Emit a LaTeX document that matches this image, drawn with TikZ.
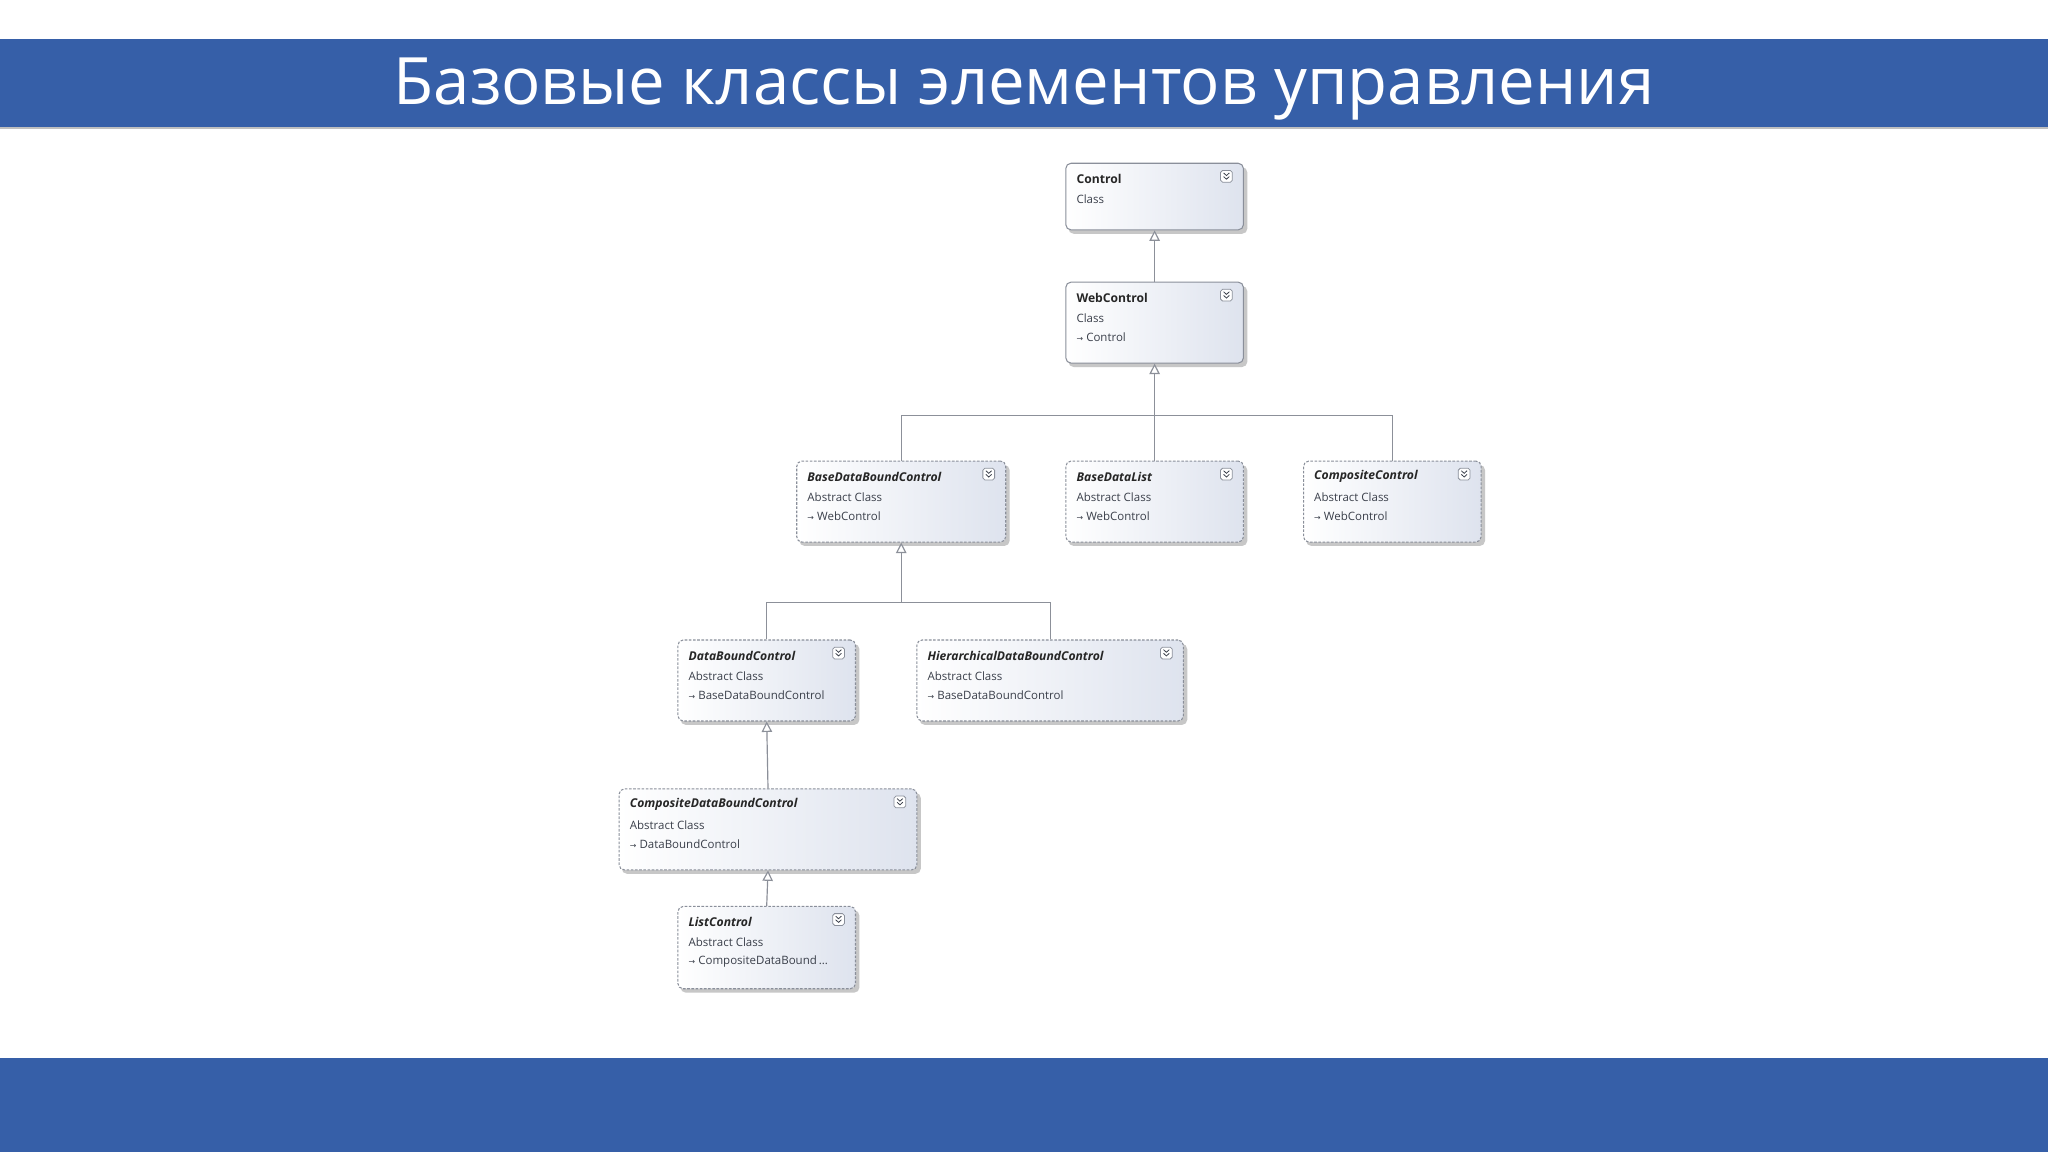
\documentclass[tikz,border=0pt]{standalone}
\usepackage{fontspec}
\setmainfont{Open Sans}
\newfontfamily\symfont{DejaVu Sans}
\usetikzlibrary{arrows.meta,calc}
\definecolor{barblue}{HTML}{365FA8}
\definecolor{boxtxt}{HTML}{3A3F4A}
\definecolor{boxedge}{HTML}{8A8F9A}
\definecolor{lineg}{HTML}{8C9099}
\tikzset{
  umlsolid/.style={draw=boxedge,rounded corners=4pt,left color=white,right color={rgb,255:red,222;green,227;blue,238},line width=0.8pt},
  umldash/.style={umlsolid,dash pattern=on 2pt off 1.2pt},
  shad/.style={fill=black!22,rounded corners=4pt,draw=none},
  nametxt/.style={anchor=west,inner sep=0,font=\fontsize{9.3}{11}\selectfont\bfseries,text=black!85},
  subtxt/.style={anchor=west,inner sep=0,font=\fontsize{8.8}{11}\selectfont,text=boxtxt},
  conn/.style={draw=lineg,line width=0.9pt},
  inh/.style={conn,-{Triangle[open,length=8pt,width=8pt,fill=white]}},
  icon/.style={draw=boxedge,rounded corners=1.5pt,minimum width=9pt,minimum height=9pt,inner sep=0,fill=white,line width=0.6pt}
}
\newcommand\umlbox[9]{%
  \fill[shad] (#2+2,#3+3) rectangle (#4+3,#5+3);
  \node[#9,minimum width={(#4-#2)*1pt},minimum height={(#5-#3)*1pt},inner sep=0] (#1) at ({(#2+#4)/2},{(#3+#5)/2}) {};
  \node[nametxt] (#1-t) at (#2+8,#3+12) {#6};
  \node[subtxt] (#1-k) at (#2+8,#3+27.5) {#7};
  \ifx&#8&\else
  \node[subtxt] (#1-p) at (#2+8,#3+42.5) {{\symfont\fontsize{6}{8}\selectfont →}\;#8};
  \fi
  \node[icon] (#1-i) at (#4-13,#3+10) {};
  \draw[boxtxt,line width=0.6pt] ($(#1-i)+(-2.2,-2.6)$) -- ($(#1-i)+(0,-0.6)$) -- ($(#1-i)+(2.2,-2.6)$)
        ($(#1-i)+(-2.2,0.2)$) -- ($(#1-i)+(0,2.2)$) -- ($(#1-i)+(2.2,0.2)$);
}
\begin{document}
\begin{tikzpicture}[x=1pt,y=-1pt]
\useasboundingbox (0,0) rectangle (1568,882);
\fill[white] (0,0) rectangle (1568,882);
\fill[black!25] (0,97) rectangle (1568,99);
\fill[barblue] (0,30) rectangle (1568,97);
\node[text=white,font=\fontsize{50}{56}\selectfont] (title) at (784,68) {Базовые классы элементов управления};
\fill[barblue] (0,810) rectangle (1568,882);
\umlbox{ctrl}{816}{125}{952}{176}{Control}{Class}{}{umlsolid}
\umlbox{wc}{816}{216}{952}{278}{WebControl}{Class}{Control}{umlsolid}
\umlbox{bdbc}{610}{353}{770}{415}{\itshape BaseDataBoundControl}{Abstract Class}{WebControl}{umldash}
\umlbox{bdl}{816}{353}{952}{415}{\itshape BaseDataList}{Abstract Class}{WebControl}{umldash}
\umlbox{cc}{998}{353}{1134}{415}{\itshape CompositeControl}{Abstract Class}{WebControl}{umldash}
\umlbox{dbc}{519}{490}{655}{552}{\itshape DataBoundControl}{Abstract Class}{BaseDataBoundControl}{umldash}
\umlbox{hdbc}{702}{490}{906}{552}{\itshape HierarchicalDataBoundControl}{Abstract Class}{BaseDataBoundControl}{umldash}
\umlbox{cdbc}{474}{604}{702}{666}{\itshape CompositeDataBoundControl}{Abstract Class}{DataBoundControl}{umldash}
\umlbox{lc}{519}{694}{655}{757}{\itshape ListControl}{Abstract Class}{CompositeDataBound\,...}{umldash}
\coordinate (b1) at (883,318);
\coordinate (b2) at (690,461);
\draw[inh] (wc.north) -- (ctrl.south);
\draw[conn] (bdbc.north) |- (b1) -| (cc.north);
\draw[inh] (bdl.north) -- (wc.south);
\draw[conn] (dbc.north) |- (b2) -| (hdbc.north);
\draw[inh] (b2) -- (bdbc.south);
\draw[inh] (cdbc.north) -- (dbc.south);
\draw[inh] (lc.north) -- (cdbc.south);
\end{tikzpicture}
\end{document}
